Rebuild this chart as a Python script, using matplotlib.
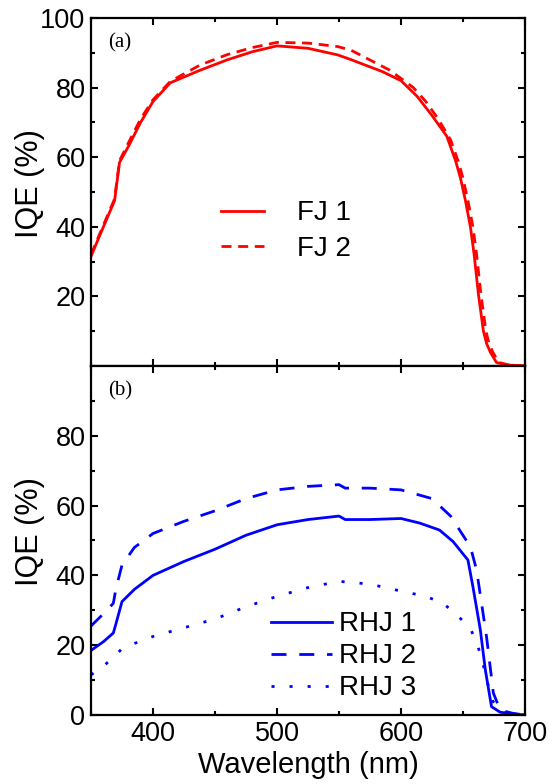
import matplotlib.pyplot as plt
import numpy as np

plt.rcParams['font.family'] = ['Liberation Sans', 'DejaVu Sans']

# panel (a)
wl_fj1 = [350, 360, 369, 373, 380, 390, 400, 414, 438, 460, 480, 500, 525, 549, 560, 585, 600,
          613, 625, 637, 644, 648, 652, 656, 659, 662.5, 666.5, 669, 672, 677, 685, 700]
fj1 = [31.5, 40, 47.5, 58.5, 63, 70, 76, 81.4, 85, 88, 90.3, 92, 91.3, 89.4, 88, 84.6, 82,
       77.5, 72, 66, 59, 54, 47.5, 40, 32, 20.5, 10, 6.5, 4, 1, 0.3, 0]
wl_fj2 = [350, 360, 369, 373, 380, 390, 400, 414, 438, 460, 480, 500, 525, 549, 560, 591, 610,
          620, 630, 640, 646, 650, 654, 658, 661, 664.5, 668.5, 671, 674, 679, 687, 700]
fj2 = [32, 40.5, 48, 59, 64, 71, 76.5, 81.8, 86.5, 89.5, 91.5, 93, 92.8, 91.8, 90.7, 85, 80,
       76, 71, 65, 59, 54, 47.5, 40, 32, 20.5, 10, 6.5, 4, 1, 0.3, 0]

# panel (b)
wl_rhj1 = [350, 360, 368, 370, 375, 385, 400, 425, 450, 475, 500, 525, 550, 555, 575, 600, 615,
           631, 642, 654, 658, 664, 668, 673, 680, 690, 700]
rhj1 = [18.5, 21, 23.5, 26, 32.5, 36, 40, 44, 47.5, 51.5, 54.5, 56, 57, 56, 56, 56.3, 55,
        53, 49.7, 44.4, 36.8, 24.4, 13, 2.4, 0.8, 0.3, 0]
wl_rhj2 = [350, 360, 368, 370, 375, 385, 400, 425, 450, 475, 500, 525, 550, 555, 575, 600, 625,
           640, 656, 661, 669, 674.5, 680, 690, 700]
rhj2 = [25.5, 29, 32, 36, 43, 48, 52, 55.5, 58.5, 62, 64.5, 65.5, 66, 65, 65, 64.5, 62,
        57, 48.2, 41.5, 22.4, 6.3, 1.4, 0.5, 0]
wl_rhj3 = [350, 360, 368, 375, 385, 400, 425, 450, 475, 500, 525, 550, 575, 600, 620, 634,
           645, 656, 662, 666, 670, 674, 680, 690, 700]
rhj3 = [11.5, 14, 16.5, 19, 20.5, 22.5, 25, 27.5, 31, 34, 36.5, 38.3, 37.5, 35.5, 34, 32,
        28.7, 24.8, 19.8, 14.8, 9, 4, 1, 0.3, 0]

fig = plt.figure(figsize=(5.57, 7.84), dpi=100)
ax1 = fig.add_axes([0.1634, 0.5332, 0.7791, 0.4438])
ax2 = fig.add_axes([0.1634, 0.088, 0.7791, 0.4452])

ax1.plot(wl_fj1, fj1, color='red', lw=2, label='FJ 1')
ax1.plot(wl_fj2, fj2, color='red', lw=2, ls=(0, (3.6, 2.4)), label='FJ 2')

ax2.plot(wl_rhj1, rhj1, color='blue', lw=2, label='RHJ 1')
ax2.plot(wl_rhj2, rhj2, color='blue', lw=2, ls=(0, (5.4, 4.6)), label='RHJ 2')
ax2.plot(wl_rhj3, rhj3, color='blue', lw=2, ls=(0, (1.1, 5.4)), label='RHJ 3')

for ax in (ax1, ax2):
    ax.set_xlim(350, 700)
    ax.set_ylim(0, 100)
    ax.set_xticks([400, 500, 600, 700])
    ax.set_xticks([350, 450, 550, 650], minor=True)
    ax.set_yticks(np.arange(10, 100, 10), minor=True)
    ax.tick_params(which='both', direction='in', top=True, right=True, width=1.5, labelsize=19.5)
    ax.tick_params(which='major', length=5, pad=4)
    ax.tick_params(which='minor', length=3)
    for s in ax.spines.values():
        s.set_linewidth(1.6)
    ax.set_ylabel('IQE (%)', fontsize=22)
    ax.yaxis.set_label_coords(-0.105, 0.525)

ax1.set_yticks([20, 40, 60, 80, 100])
ax1.tick_params(labelbottom=False)
ax2.set_yticks([0, 20, 40, 60, 80])
ax2.set_xlabel('Wavelength (nm)', fontsize=21, labelpad=3)

ax1.text(0.04, 0.955, '(a)', transform=ax1.transAxes, fontsize=15,
         family='Liberation Serif', va='top')
ax2.text(0.04, 0.955, '(b)', transform=ax2.transAxes, fontsize=15,
         family='Liberation Serif', va='top')

ax1.legend(loc='center', bbox_to_anchor=(0.449, 0.387), frameon=False, fontsize=20,
           handlelength=1.55, handletextpad=1.2, labelspacing=0.35)
ax2.legend(loc='center', bbox_to_anchor=(0.582, 0.168), frameon=False, fontsize=20,
           handlelength=2.2, handletextpad=0.25, labelspacing=0.22)

fig.savefig('out.png', dpi=100)
